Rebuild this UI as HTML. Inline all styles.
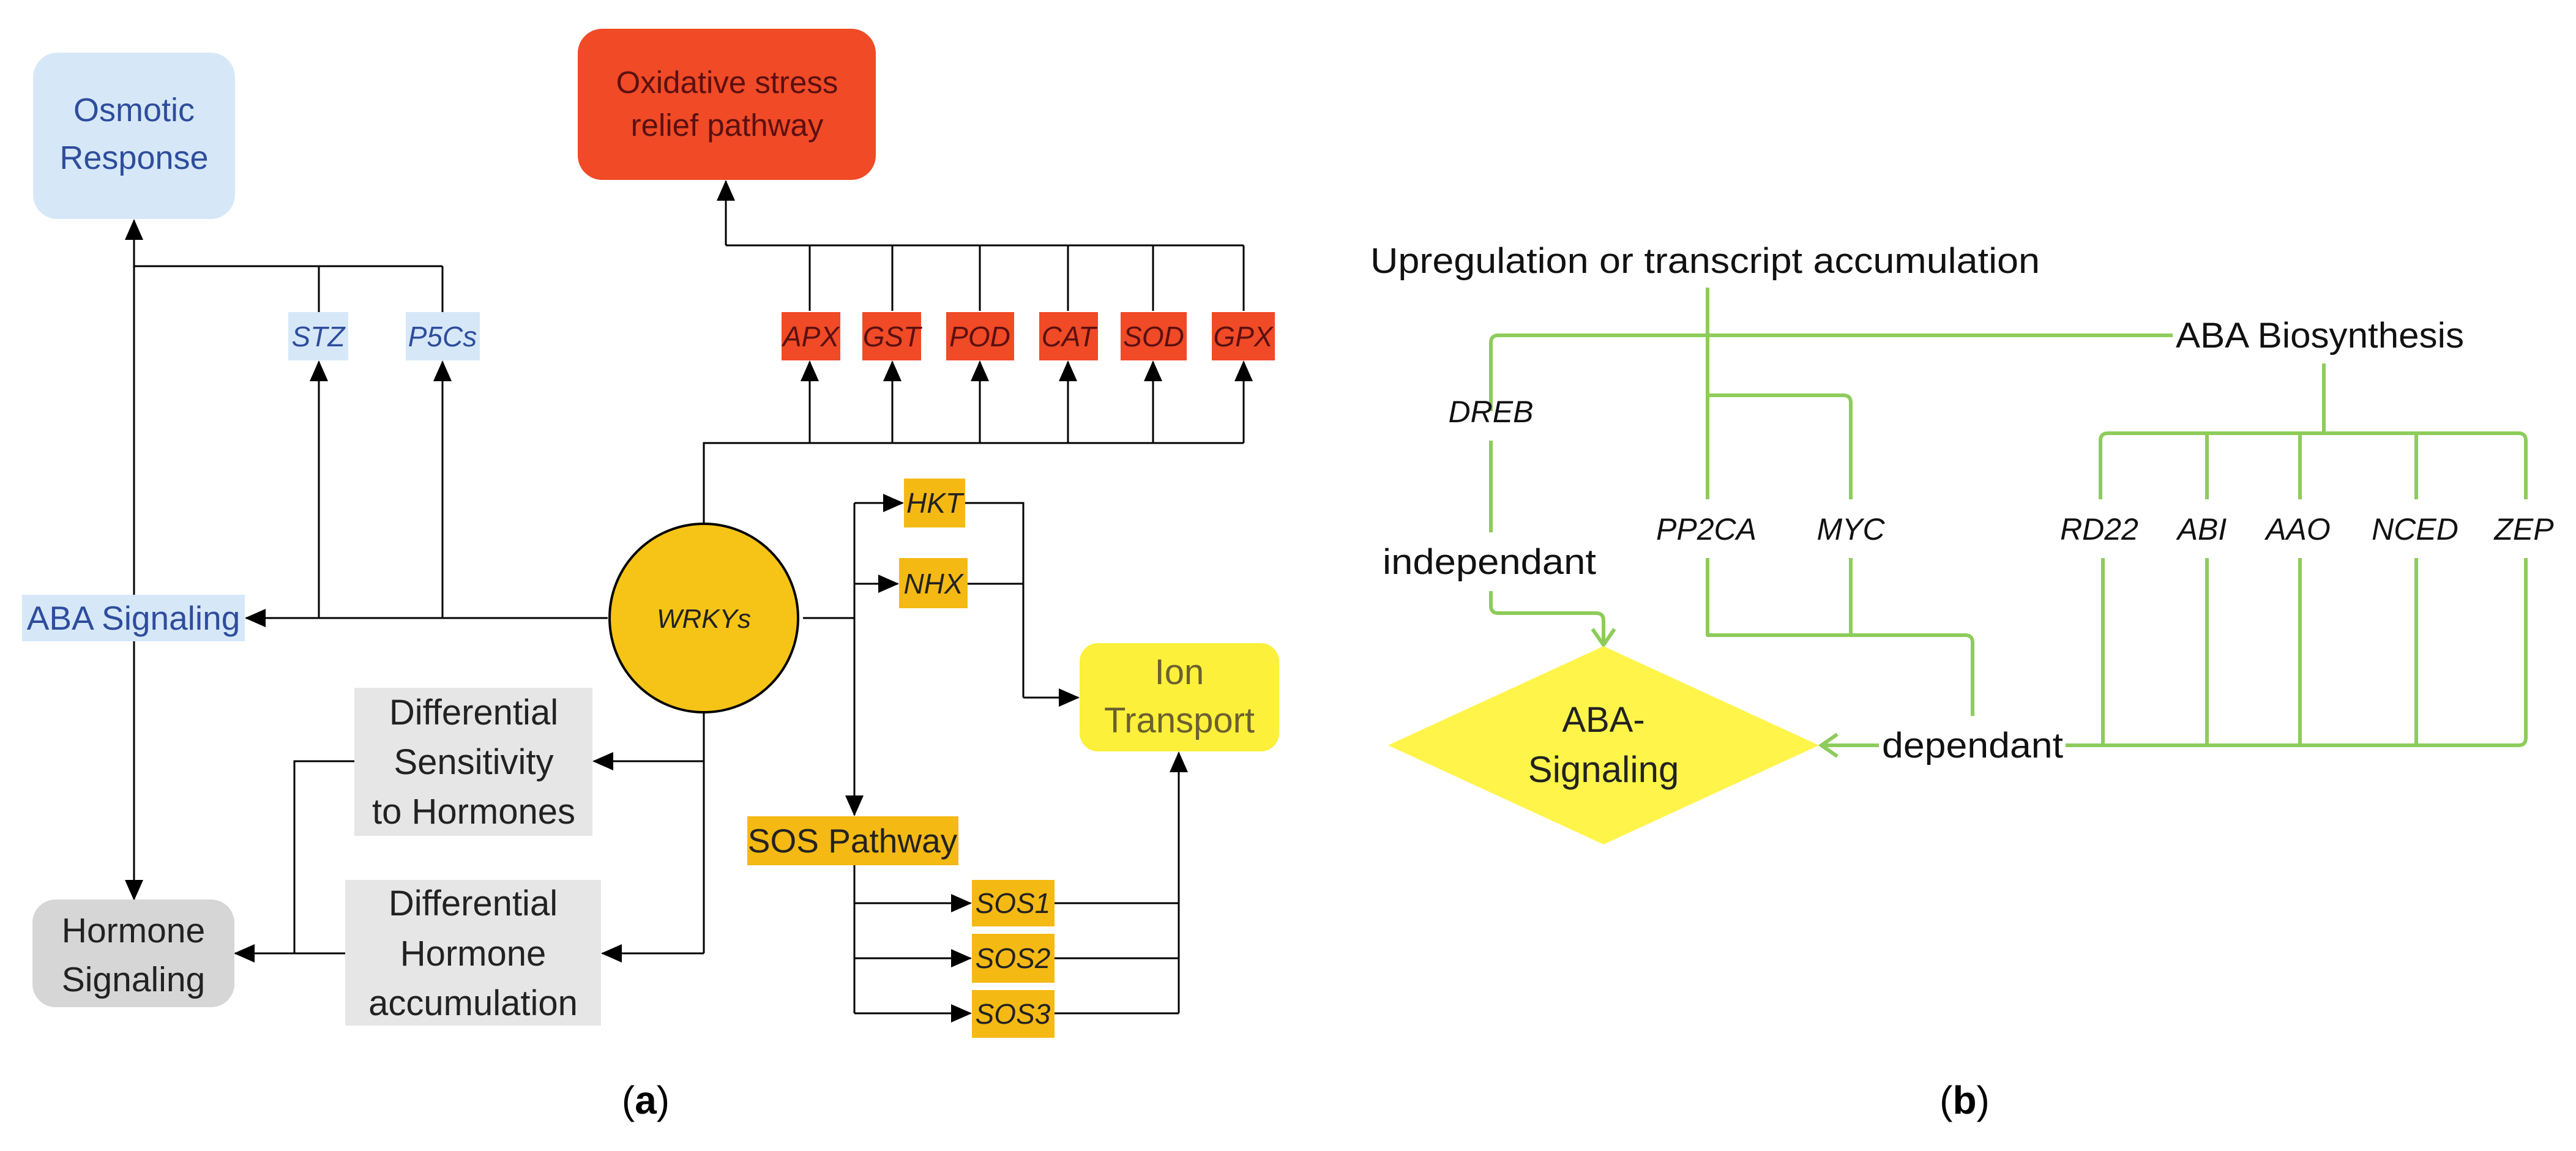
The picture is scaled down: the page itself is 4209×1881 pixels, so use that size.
<!DOCTYPE html>
<html><head><meta charset="utf-8"><style>
html,body{margin:0;padding:0;background:#fff}
svg{display:block}
text{font-family:"Liberation Sans",sans-serif}
</style></head><body>
<svg width="4209" height="1881" viewBox="0 0 4209 1881" xmlns="http://www.w3.org/2000/svg">
<defs>
<marker id="a" markerUnits="userSpaceOnUse" markerWidth="34" markerHeight="30" refX="32" refY="15" orient="auto"><path d="M0,0 L34,15 L0,30 Z" fill="#000"/></marker>
<marker id="g" markerUnits="userSpaceOnUse" markerWidth="40" markerHeight="44" refX="34" refY="22" orient="auto"><path d="M8,4 L34,22 L8,40" fill="none" stroke="#8dcc5a" stroke-width="6"/></marker>
</defs>
<g fill="none" stroke="#000" stroke-width="3">
<path d="M219,972 L219,360" marker-end="url(#a)"/>
<path d="M219,1048 L219,1470" marker-end="url(#a)"/>
<path d="M219,435 L723,435 M521,435 L521,510 M723,435 L723,510"/>
<path d="M521,1010 L521,591" marker-end="url(#a)"/>
<path d="M723,1010 L723,591" marker-end="url(#a)"/>
<path d="M993,1010 L402,1010" marker-end="url(#a)"/>
<path d="M1186,401 L1186,296" marker-end="url(#a)"/>
<path d="M1186,401 L2032,401 M1323,401 L1323,508 M1458,401 L1458,508 M1601,401 L1601,508 M1745,401 L1745,508 M1884,401 L1884,508 M2032,401 L2032,508"/>
<path d="M1150,858 L1150,724 L2032,724"/>
<path d="M1323,724 L1323,591" marker-end="url(#a)"/>
<path d="M1458,724 L1458,591" marker-end="url(#a)"/>
<path d="M1601,724 L1601,591" marker-end="url(#a)"/>
<path d="M1745,724 L1745,591" marker-end="url(#a)"/>
<path d="M1884,724 L1884,591" marker-end="url(#a)"/>
<path d="M2032,724 L2032,591" marker-end="url(#a)"/>
<path d="M1150,1162 L1150,1558"/>
<path d="M1150,1244 L970,1244" marker-end="url(#a)"/>
<path d="M1150,1558 L984,1558" marker-end="url(#a)"/>
<path d="M579,1244 L481,1244 L481,1558"/>
<path d="M564,1558 L384,1558" marker-end="url(#a)"/>
<path d="M1312,1010 L1396,1010"/>
<path d="M1396,822 L1396,1332" marker-end="url(#a)"/>
<path d="M1396,822 L1475,822" marker-end="url(#a)"/>
<path d="M1396,954 L1467,954" marker-end="url(#a)"/>
<path d="M1577,822 L1672,822 L1672,1140 M1581,954 L1672,954"/>
<path d="M1672,1140 L1762,1140" marker-end="url(#a)"/>
<path d="M1396,1414 L1396,1656"/>
<path d="M1396,1476 L1586,1476" marker-end="url(#a)"/>
<path d="M1396,1566 L1586,1566" marker-end="url(#a)"/>
<path d="M1396,1656 L1586,1656" marker-end="url(#a)"/>
<path d="M1723,1476 L1926,1476 M1723,1566 L1926,1566 M1723,1656 L1926,1656"/>
<path d="M1926,1656 L1926,1230" marker-end="url(#a)"/>
</g>
<rect x="54" y="86" width="330" height="272" rx="40" fill="#d6e8f8"/>
<text x="219" y="198" font-size="54" fill="#2e4d9c" text-anchor="middle">Osmotic</text>
<text x="219" y="276" font-size="54" fill="#2e4d9c" text-anchor="middle">Response</text>
<rect x="944" y="47" width="487" height="247" rx="40" fill="#f04a26"/>
<text x="1188" y="152" font-size="51" fill="#5a1010" text-anchor="middle">Oxidative stress</text>
<text x="1188" y="222" font-size="51" fill="#5a1010" text-anchor="middle">relief pathway</text>
<g font-size="46" font-style="italic" text-anchor="middle">
<rect x="471" y="510" width="98" height="79" fill="#d6e8f8"/><text x="520" y="566" fill="#2e4d9c">STZ</text>
<rect x="663" y="510" width="121" height="79" fill="#d6e8f8"/><text x="723" y="566" fill="#2e4d9c">P5Cs</text>
<rect x="1277" y="510" width="96" height="79" fill="#f04a26"/><text x="1325" y="566" fill="#5a1010">APX</text>
<rect x="1409" y="510" width="96" height="79" fill="#f04a26"/><text x="1457" y="566" fill="#5a1010">GST</text>
<rect x="1546" y="510" width="111" height="79" fill="#f04a26"/><text x="1601" y="566" fill="#5a1010">POD</text>
<rect x="1698" y="510" width="96" height="79" fill="#f04a26"/><text x="1746" y="566" fill="#5a1010">CAT</text>
<rect x="1831" y="510" width="108" height="79" fill="#f04a26"/><text x="1885" y="566" fill="#5a1010">SOD</text>
<rect x="1980" y="510" width="103" height="79" fill="#f04a26"/><text x="2031" y="566" fill="#5a1010">GPX</text>
<rect x="1477" y="782" width="100" height="80" fill="#f5b914"/><text x="1527" y="838" fill="#222">HKT</text>
<rect x="1469" y="912" width="112" height="82" fill="#f5b914"/><text x="1525" y="970" fill="#222">NHX</text>
<rect x="1588" y="1438" width="135" height="76" fill="#f5b914"/><text x="1655" y="1492" fill="#222">SOS1</text>
<rect x="1588" y="1526" width="135" height="80" fill="#f5b914"/><text x="1655" y="1582" fill="#222">SOS2</text>
<rect x="1588" y="1618" width="135" height="78" fill="#f5b914"/><text x="1655" y="1673" fill="#222">SOS3</text>
</g>
<rect x="36" y="972" width="364" height="76" fill="#d6e8f8"/>
<text x="218" y="1029" font-size="55" fill="#2e4d9c" text-anchor="middle">ABA Signaling</text>
<circle cx="1150" cy="1010" r="154" fill="#f6c416" stroke="#000" stroke-width="4"/>
<text x="1150" y="1026" font-size="44" font-style="italic" fill="#222" text-anchor="middle">WRKYs</text>
<rect x="53" y="1470" width="330" height="176" rx="38" fill="#d6d6d6"/>
<text x="218" y="1540" font-size="57" fill="#222" text-anchor="middle">Hormone</text>
<text x="218" y="1620" font-size="57" fill="#222" text-anchor="middle">Signaling</text>
<rect x="579" y="1124" width="389" height="242" fill="#e6e6e6"/>
<g font-size="58" fill="#222" text-anchor="middle">
<text x="774" y="1184">Differential</text><text x="774" y="1265">Sensitivity</text><text x="774" y="1346">to Hormones</text>
</g>
<rect x="564" y="1438" width="418" height="238" fill="#e6e6e6"/>
<g font-size="58" fill="#222" text-anchor="middle">
<text x="773" y="1496">Differential</text><text x="773" y="1578">Hormone</text><text x="773" y="1659">accumulation</text>
</g>
<rect x="1764" y="1051" width="326" height="177" rx="30" fill="#fcf03a"/>
<text x="1927" y="1118" font-size="58" fill="#6b6030" text-anchor="middle">Ion</text>
<text x="1927" y="1197" font-size="58" fill="#6b6030" text-anchor="middle">Transport</text>
<rect x="1221" y="1334" width="345" height="80" fill="#f5b914"/>
<text x="1393" y="1393" font-size="55" fill="#222" text-anchor="middle">SOS Pathway</text>
<text x="1055" y="1820" font-size="64" font-family="Liberation Serif" text-anchor="middle">(<tspan font-weight="bold">a</tspan>)</text>

<g fill="none" stroke="#8dcc5a" stroke-width="6" stroke-linejoin="round">
<path d="M2790,470 L2790,816"/>
<path d="M2436,672 L2436,560 Q2436,548 2448,548 L3550,548"/>
<path d="M2436,720 L2436,870"/>
<path d="M2436,966 L2436,990 Q2436,1002 2448,1002 L2608,1002 Q2620,1002 2620,1014 L2620,1054" marker-end="url(#g)"/>
<path d="M2790,646 L3012,646 Q3024,646 3024,658 L3024,816"/>
<path d="M2790,912 L2790,1038 L3211,1038 Q3223,1038 3223,1050 L3223,1170"/>
<path d="M3024,912 L3024,1038"/>
<path d="M3070,1218 L2976,1218" marker-end="url(#g)"/>
<path d="M3375,1218 L4115,1218 Q4127,1218 4127,1206 L4127,912"/>
<path d="M3436,912 L3436,1218 M3606,912 L3606,1218 M3758,912 L3758,1218 M3948,912 L3948,1218"/>
<path d="M3797,594 L3797,708"/>
<path d="M3432,816 L3432,720 Q3432,708 3444,708 L4115,708 Q4127,708 4127,720 L4127,816"/>
<path d="M3606,708 L3606,816 M3758,708 L3758,816 M3948,708 L3948,816"/>
</g>
<polygon points="2268,1218 2620,1056 2972,1218 2620,1380" fill="#fff44a"/>
<text x="2620" y="1196" font-size="58" fill="#222" text-anchor="middle">ABA-</text>
<text x="2620" y="1278" font-size="60" fill="#222" text-anchor="middle">Signaling</text>
<g font-size="58" fill="#111">
<text x="2239" y="446" textLength="1094" lengthAdjust="spacingAndGlyphs">Upregulation or transcript accumulation</text>
<text x="3555" y="568" textLength="471" lengthAdjust="spacingAndGlyphs">ABA Biosynthesis</text>
<text x="2259" y="938" textLength="349" lengthAdjust="spacingAndGlyphs">independant</text>
<text x="3075" y="1238" textLength="296" lengthAdjust="spacingAndGlyphs">dependant</text>
</g>
<g font-size="50" font-style="italic" fill="#111" text-anchor="middle">
<text x="2436" y="690">DREB</text>
<text x="2788" y="882">PP2CA</text>
<text x="3024" y="882">MYC</text>
<text x="3430" y="882">RD22</text>
<text x="3598" y="882">ABI</text>
<text x="3755" y="882">AAO</text>
<text x="3946" y="882">NCED</text>
<text x="4124" y="882">ZEP</text>
</g>
<text x="3210" y="1820" font-size="64" font-family="Liberation Serif" text-anchor="middle">(<tspan font-weight="bold">b</tspan>)</text>
</svg>
</body></html>
